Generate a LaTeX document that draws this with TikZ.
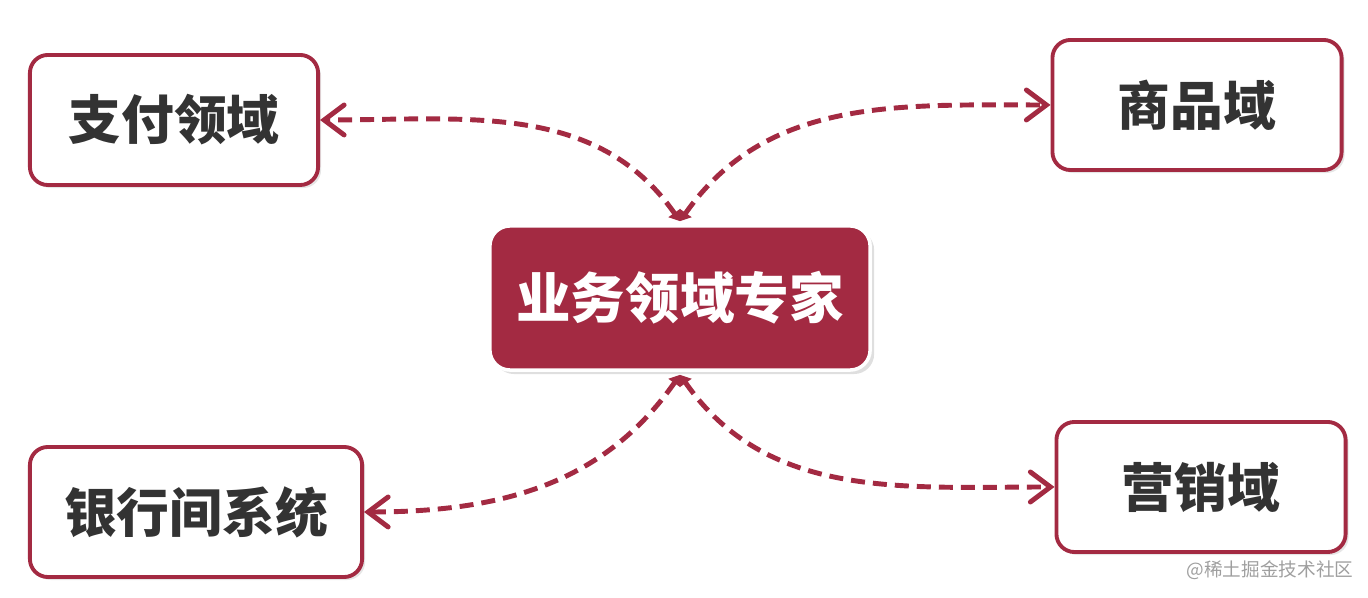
\documentclass[tikz,border=0pt]{standalone}
\usepackage{fontspec}
\usepackage{tikz}
\usetikzlibrary{positioning,arrows.meta,shadows}
\newfontfamily\cjk{Noto Sans CJK SC}
\definecolor{domred}{RGB}{163,42,66}
\definecolor{domtext}{RGB}{51,51,51}

\begin{document}
\begin{tikzpicture}[
        x=0.01cm, y=0.01cm,
        domainbox/.style={rectangle, rounded corners=0.18cm, draw=domred, line width=1.1pt,
            fill=white, minimum height=1.3cm, text=domtext,
            font=\cjk\bfseries\fontsize{15}{18}\selectfont,
            drop shadow={shadow xshift=0.03cm, shadow yshift=-0.03cm, opacity=0.2}},
        expertbox/.style={rectangle, rounded corners=0.2cm, draw=white, line width=1pt,
            fill=domred, minimum width=3.8cm, minimum height=1.44cm, text=white,
            font=\cjk\bfseries\fontsize{15.5}{18}\selectfont,
            drop shadow={shadow xshift=0.04cm, shadow yshift=-0.04cm, opacity=0.25}},
        link/.style={draw=domred, line width=1.4pt, dash pattern=on 0.14cm off 0.08cm,
            {Triangle[length=0.1cm, width=0.14cm]}-{Straight Barb[length=0.2cm, width=0.3cm, line cap=round]}}
    ]
        \useasboundingbox (0,0) rectangle (1368,598);

        % Nodes
        \node[expertbox] (expert) at (680,300) {业务领域专家};
        \node[domainbox, minimum width=2.88cm] (pay) at (174,478) {支付领域};
        \node[domainbox, minimum width=2.89cm] (goods) at (1197,493) {商品域};
        \node[domainbox, minimum width=3.32cm] (bank) at (196,86) {银行间系统};
        \node[domainbox, minimum width=2.89cm] (market) at (1201,111) {营销域};

        % Edges
        \draw[link] ([yshift=0.03cm]expert.north) to[out=125, in=0] (pay.east);
        \draw[link] ([yshift=0.03cm]expert.north) to[out=55, in=180] (goods.west);
        \draw[link] ([yshift=-0.03cm]expert.south) to[out=-125, in=0] (bank.east);
        \draw[link] ([yshift=-0.03cm]expert.south) to[out=-55, in=180] (market.west);

        % Watermark
        \node[text=gray!75, font=\cjk\fontsize{5.3}{6}\selectfont] (mark) at (1270,28) {@稀土掘金技术社区};
    \end{tikzpicture}
\end{document}
